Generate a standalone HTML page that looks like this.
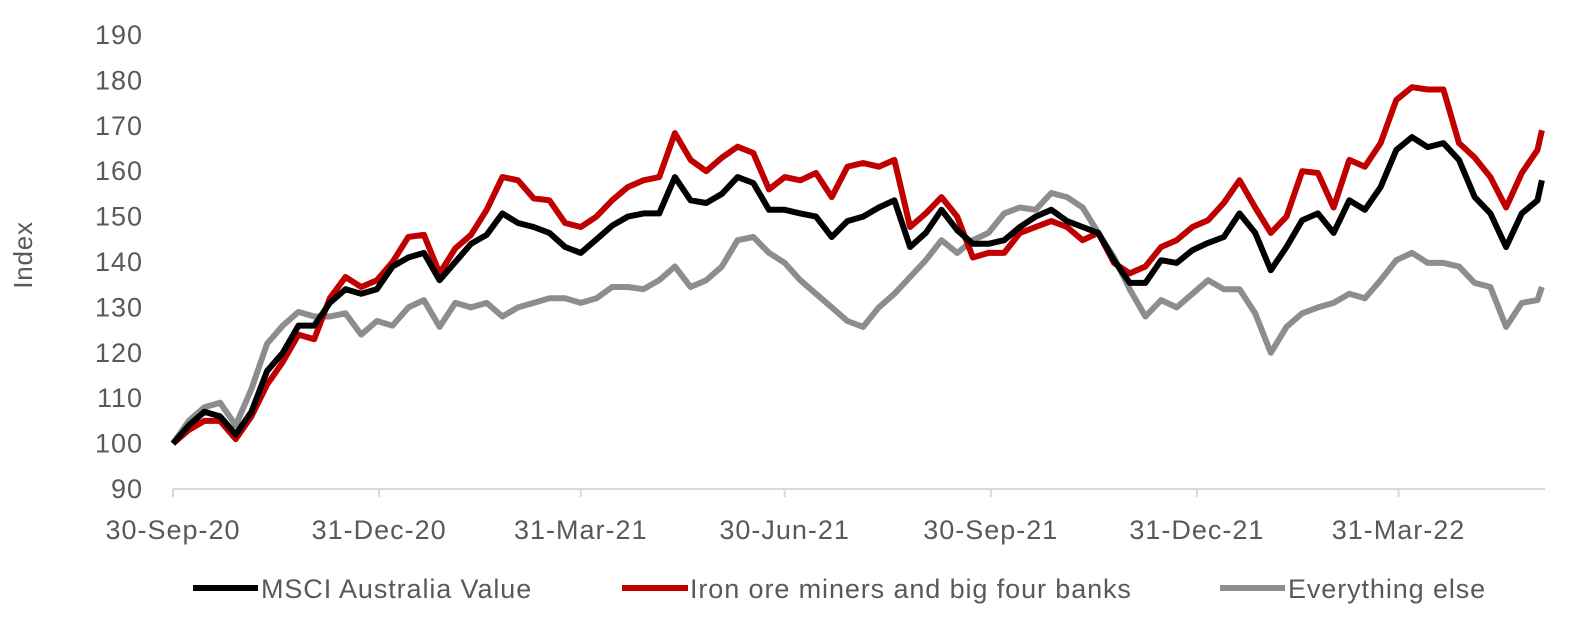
<!DOCTYPE html>
<html><head><meta charset="utf-8"><style>
body{margin:0;background:#fff;}
svg text{font-family:"Liberation Sans",sans-serif;fill:#595959;}
</style></head><body>
<svg id="chart" width="1578" height="624" viewBox="0 0 1578 624" xmlns="http://www.w3.org/2000/svg">
<g id="yaxis"></g>
<g id="xaxis"></g>
<text x="0" y="0" font-size="26" letter-spacing="0.8" text-anchor="middle" transform="translate(32,255) rotate(-90)">Index</text>
<g id="series"></g>
<g>
 <g><line x1="193" y1="588" x2="258" y2="588" stroke="#000" stroke-width="6"/><text x="261" y="598" font-size="27" letter-spacing="0.9">MSCI Australia Value</text></g>
 <g><line x1="622" y1="588" x2="688" y2="588" stroke="#C00000" stroke-width="6"/><text x="690" y="598" font-size="27" letter-spacing="0.9">Iron ore miners and big four banks</text></g>
 <g><line x1="1220" y1="588" x2="1285" y2="588" stroke="#8C8D8F" stroke-width="6"/><text x="1288" y="598" font-size="27" letter-spacing="0.9">Everything else</text></g>
</g>
</svg>
<script>
const yTicks=[90,100,110,120,130,140,150,160,170,180,190];
const xTickLabels=["30-Sep-20","31-Dec-20","31-Mar-21","30-Jun-21","30-Sep-21","31-Dec-21","31-Mar-22"];
const xTickDays=[0,92,182,273,365,457,547];
const msci=[100,104,107,106,102,107,116,120,126,126,131,134,133,134,139,141,142,136,140,144,146,150.7,148.6,147.7,146.4,143.3,142,145,148,150,150.7,150.7,158.7,153.6,153,155,158.7,157.4,151.5,151.5,150.7,150,145.5,149,150,152,153.6,143.3,146.4,151.5,147,144,144,144.8,147.7,150,151.5,149,147.7,146.4,140.4,135.4,135.4,140.4,139.8,142.6,144.2,145.5,150.7,146.4,138.2,143.3,149.2,150.7,146.4,153.6,151.5,156.5,164.7,167.5,165.3,166.2,162.5,154.3,150.7,143.3,150.7,153.6,158];
const ironBanks=[100,103,105,105,101,106,113,118,124,123,132,136.7,134.5,136,140,145.5,146,137.5,143,146,151.5,158.7,158,154,153.6,148.6,147.7,150,153.6,156.5,158,158.7,168.4,162.5,160,163,165.4,164,156,158.7,158,159.6,154.3,161,161.8,161,162.5,147.7,150.7,154.3,150,141,142,142,146.4,147.7,149,147.7,144.8,146.4,139.8,137.5,139,143.3,144.8,147.7,149.2,153,158,152,146.4,150,160,159.6,152,162.5,161,166.2,175.7,178.5,178,178,166.2,163,158.7,152,159.6,164.7,169];
const everythingElse=[100,105,108,109,104,112,122,126,129,128,128,128.7,124,127,126,130,131.6,125.7,131,130,131,128,130,131,132,132,131,132,134.5,134.5,134,136,139,134.5,136,139,144.8,145.5,142,139.8,136,133,130,127,125.7,130,133,136.7,140.4,144.8,142,144.8,146.4,150.7,152,151.5,155.2,154.3,152,146.4,141,134,128,131.6,130,133,136,134,134,128.7,120,125.7,128.7,130,131,133,132,136,140.4,142,139.8,139.8,139,135.4,134.5,125.7,131,131.6,134.5];
const pointDays=msci.map((v,i)=>i<msci.length-1?i*7:611);

const NS="http://www.w3.org/2000/svg";
const x0=173,pxPerDay=2.2405,yBase=489,pxPerUnit=4.54;
function xs(d){return x0+d*pxPerDay;}
function ys(v){return yBase-(v-90)*pxPerUnit;}
function mk(tag,attrs,parent){const e=document.createElementNS(NS,tag);for(const k in attrs)e.setAttribute(k,attrs[k]);parent.appendChild(e);return e;}

const ya=document.getElementById('yaxis');
yTicks.forEach(t=>{
  const tx=mk('text',{x:143,y:ys(t)+9,'font-size':27,'letter-spacing':1,'text-anchor':'end'},ya);
  
  
  tx.textContent=t;
});
const xa=document.getElementById('xaxis');
const axl=mk('line',{x1:x0,y1:yBase,x2:1545,y2:yBase,stroke:'#D9D9D9','stroke-width':2},xa);


xTickDays.forEach((d,i)=>{
  const tk=mk('line',{x1:xs(d),y1:yBase,x2:xs(d),y2:yBase+8,stroke:'#D9D9D9','stroke-width':2},xa);
  
  
  const tx=mk('text',{x:xs(d),y:539,'font-size':27,'letter-spacing':1,'text-anchor':'middle'},xa);
  
  
  tx.textContent=xTickLabels[i];
});
const sg=document.getElementById('series');
function drawLine(vals,color,name){
  const p=vals.map((v,i)=>(i?'L':'M')+xs(pointDays[i]).toFixed(1)+' '+ys(v).toFixed(1)).join(' ');
  const el=mk('path',{d:p,fill:'none',stroke:color,'stroke-width':6,'stroke-linejoin':'round'},sg);
  
  
}
drawLine(everythingElse,'#8C8D8F','line-everything-else');
drawLine(ironBanks,'#C00000','line-iron-ore-banks');
drawLine(msci,'#000000','line-msci-australia-value');
</script>
</body></html>
